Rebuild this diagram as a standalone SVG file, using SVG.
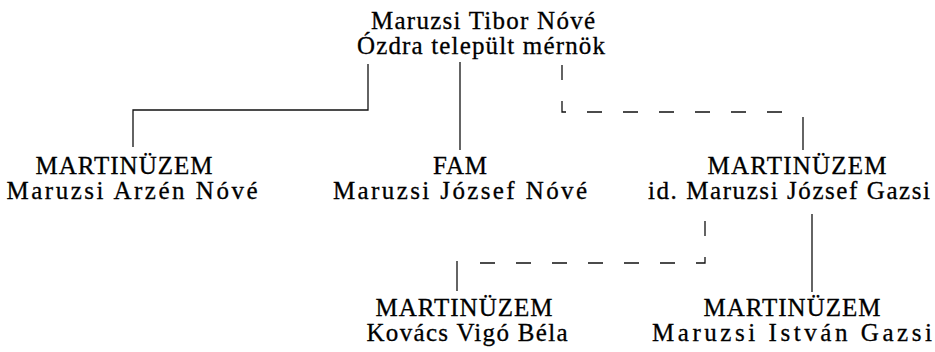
<svg xmlns="http://www.w3.org/2000/svg" width="935" height="352" viewBox="0 0 935 352">
<style>
text{font-family:"Liberation Serif","Times New Roman",serif;font-size:25px;fill:#000;stroke:#000;stroke-width:0.3;text-anchor:middle}
.ln{fill:none;stroke:#111;stroke-width:1.3}
.ds{fill:none;stroke:#111;stroke-width:1.3;stroke-dasharray:15 21}
</style>
<rect width="935" height="352" fill="#fff"/>
<g id="connectors">
<path class="ln" d="M368,64 V110 H133 V147"/>
<path class="ln" d="M460,62 V150"/>
<path class="ds" d="M562,65 V112 H800"/>
<path class="ln" d="M803,117 V150"/>
<path class="ds" d="M705,221 V263 H470"/>
<path class="ln" d="M457,261 V291"/>
<path class="ln" d="M812,214 V292"/>
</g>
<g id="n-tibor">
<text x="483" y="29" textLength="224" lengthAdjust="spacing">Maruzsi Tibor Nóvé</text>
<text x="481" y="54" textLength="248" lengthAdjust="spacing">Ózdra települt mérnök</text>
</g>
<g id="n-arzen">
<text x="124" y="174" textLength="177" lengthAdjust="spacing">MARTINÜZEM</text>
<text x="132" y="199" textLength="251" lengthAdjust="spacing">Maruzsi Arzén Nóvé</text>
</g>
<g id="n-jozsef">
<text x="460" y="174" textLength="54" lengthAdjust="spacing">FAM</text>
<text x="460" y="199" textLength="254" lengthAdjust="spacing">Maruzsi József Nóvé</text>
</g>
<g id="n-gazsi">
<text x="797" y="174" textLength="179" lengthAdjust="spacing">MARTINÜZEM</text>
<text x="789" y="199" textLength="282" lengthAdjust="spacing">id. Maruzsi József Gazsi</text>
</g>
<g id="n-kovacs">
<text x="464" y="316" textLength="177" lengthAdjust="spacing">MARTINÜZEM</text>
<text x="467" y="341" textLength="201" lengthAdjust="spacing">Kovács Vigó Béla</text>
</g>
<g id="n-istvan">
<text x="792" y="316" textLength="177" lengthAdjust="spacing">MARTINÜZEM</text>
<text x="792" y="341" textLength="280" lengthAdjust="spacing">Maruzsi István Gazsi</text>
</g>
</svg>
